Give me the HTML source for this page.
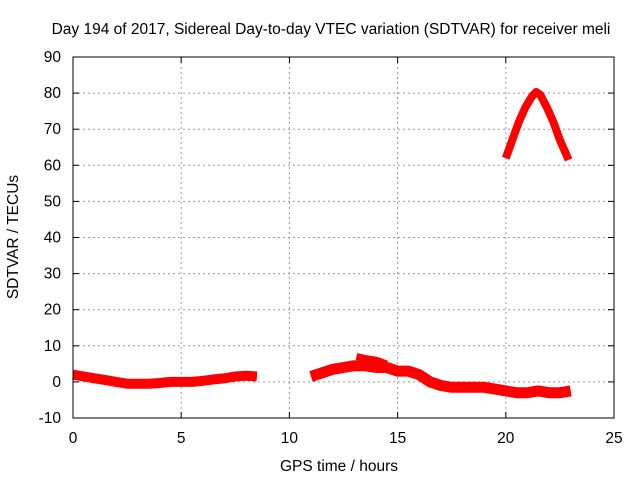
<!DOCTYPE html>
<html><head><meta charset="utf-8"><style>
body{margin:0;background:#fff;}
svg text{font-family:"Liberation Sans",sans-serif;font-size:15.5px;fill:#000;}
</style></head><body>
<svg id="chart" width="640" height="480">
<text x="331" y="34" text-anchor="middle">Day 194 of 2017, Sidereal Day-to-day VTEC variation (SDTVAR) for receiver meli</text>
<text x="339" y="471" text-anchor="middle">GPS time / hours</text>
<text transform="translate(18,237) rotate(-90)" text-anchor="middle">SDTVAR / TECUs</text>
<g id="grid"></g><g id="series"></g><g id="axes"></g>
</svg>
<script>
const xTicks=[0,5,10,15,20,25];
const yTicks=[-10,0,10,20,30,40,50,60,70,80,90];
const seg1Time=[0,0.5,1,1.5,2,2.5,3,3.5,4,4.5,5,5.5,6,6.5,7,7.5,8,8.5];
const seg1Val=[2,1.5,1,0.5,0,-0.5,-0.5,-0.5,-0.3,0,0,0,0.3,0.7,1,1.5,1.7,1.5];
const seg2Time=[11,11.5,12,12.5,13,13.5,14,14.5,15,15.5,16,16.5,17,17.5,18,18.5,19,19.5,20,20.5,21,21.5,22,22.5,23];
const seg2Val=[1.5,2.5,3.5,4,4.5,4.5,4,4,3,3,2,0,-1,-1.5,-1.5,-1.5,-1.5,-2,-2.5,-3,-3,-2.5,-3,-3,-2.5];
const seg3Time=[13.1,13.5,14,14.5];
const seg3Val=[7,6.5,6,5];
const arcTime=[20,20.3,20.6,20.9,21.2,21.4,21.6,21.9,22.2,22.5,22.9];
const arcVal=[62,67,72,76,79,80.3,79.5,76,72,67,61.5];
const NS='http://www.w3.org/2000/svg';
const X0=73,X1=614,Y0=418,Y1=57;
const xs=h=>X0+(h-0)/(25-0)*(X1-X0);
const ys=v=>Y0-(v+10)/(100)*(Y0-Y1);
function mk(t,a,p){const e=document.createElementNS(NS,t);for(const k in a)e.setAttribute(k,a[k]);p.appendChild(e);return e;}
const grid=document.getElementById('grid'),axes=document.getElementById('axes'),ser=document.getElementById('series');
xTicks.forEach(t=>{
 if(t>0&&t<25){const l=mk('line',{x1:xs(t),x2:xs(t),y1:Y1,y2:Y0,stroke:'#999','stroke-dasharray':'2,3'},grid);
 
 }
 const tx=mk('text',{x:xs(t),y:Y0+25,'text-anchor':'middle'},axes);tx.textContent=t;
 
 
 mk('line',{x1:xs(t),x2:xs(t),y1:Y0,y2:Y0-6,stroke:'#000'},axes);
 mk('line',{x1:xs(t),x2:xs(t),y1:Y1,y2:Y1+6,stroke:'#000'},axes);
});
yTicks.forEach(t=>{
 if(t>-10&&t<90){const l=mk('line',{x1:X0,x2:X1,y1:ys(t),y2:ys(t),stroke:'#999','stroke-dasharray':'2,3'},grid);
 
 }
 const tx=mk('text',{x:X0-12,y:ys(t)+5,'text-anchor':'end'},axes);tx.textContent=t;
 
 
 mk('line',{x1:X0,x2:X0+6,y1:ys(t),y2:ys(t),stroke:'#000'},axes);
 mk('line',{x1:X1,x2:X1-6,y1:ys(t),y2:ys(t),stroke:'#000'},axes);
});
const fr=mk('rect',{x:X0,y:Y1,width:X1-X0,height:Y0-Y1,fill:'none',stroke:'#000'},axes);


function series(T,V,w,name){
 const d=T.map((t,i)=>(i?'L':'M')+xs(t).toFixed(1)+','+ys(V[i]).toFixed(1)).join(' ');
 const p=mk('path',{d:d,fill:'none',stroke:'#f00','stroke-width':w,'stroke-linejoin':'round','stroke-linecap':'butt'},ser);
 
 
}
series(seg1Time,seg1Val,10,'sdtvar-series-early');
series(seg2Time,seg2Val,11,'sdtvar-series-late');
series(seg3Time,seg3Val,7,'sdtvar-series-upper');
series(arcTime,arcVal,8,'sdtvar-series-arc');
</script>
</body></html>
